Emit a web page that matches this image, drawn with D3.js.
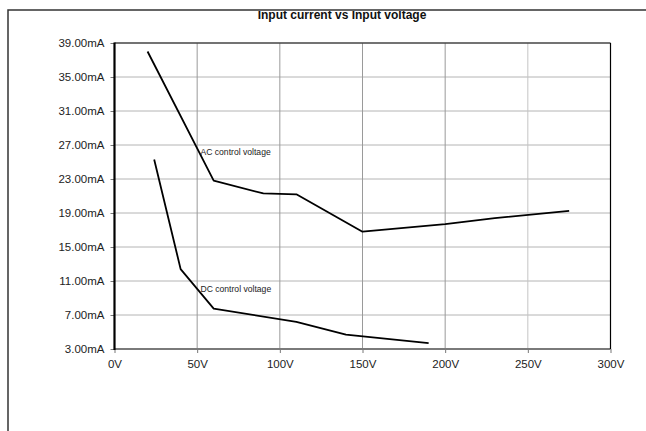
<!DOCTYPE html>
<html><head><meta charset="utf-8">
<script src="https://cdn.jsdelivr.net/npm/d3@7"></script>
<style>
html,body{margin:0;padding:0;background:#fff;}
svg{display:block;font-family:"Liberation Sans",Arial,sans-serif;}
</style></head>
<body>
<svg id="chart" width="646" height="431"></svg>
<script>
const title = "Input current vs Input voltage";
const xTicks = [0, 50, 100, 150, 200, 250, 300];
const yTicks = [3, 7, 11, 15, 19, 23, 27, 31, 35, 39];
const acVoltage = [20, 60, 90, 110, 150, 200, 230, 275];
const acCurrent = [38.0, 22.8, 21.3, 21.2, 16.8, 17.7, 18.4, 19.25];
const dcVoltage = [24, 40, 60, 110, 140, 190];
const dcCurrent = [25.3, 12.4, 7.75, 6.2, 4.7, 3.7];
const acLabel = {text: "AC control voltage", v: 52, i: 25.8};
const dcLabel = {text: "DC control voltage", v: 52, i: 9.7};

const svg = d3.select("#chart");
const x = d3.scaleLinear().domain([0, 300]).range([114.5, 610.5]);
const y = d3.scaleLinear().domain([3, 39]).range([349, 43]);

// outer frame
svg.append("path").attr("d", "M8,431 L8,10 L646,10").attr("fill", "none")
  .attr("stroke", "#333").attr("stroke-width", 1.5);

// title clipped by frame
svg.append("clipPath").attr("id", "tclip").append("rect")
  .attr("x", 0).attr("y", 11).attr("width", 646).attr("height", 40);
svg.append("text").attr("clip-path", "url(#tclip)")
  .attr("x", 342).attr("y", 19).attr("text-anchor", "middle")
  .attr("font-size", 12).attr("font-weight", "bold").attr("fill", "#111")
  .text(title);

// grid
const g = svg.append("g");
g.selectAll(".hg").data(yTicks.filter(d => d !== 3 && d !== 39)).join("line")
  .attr("x1", x(0)).attr("x2", x(300)).attr("y1", d => y(d)).attr("y2", d => y(d))
  .attr("stroke", "#b4b4b4").attr("stroke-width", 1);
g.selectAll(".vg").data(xTicks.filter(d => d !== 0 && d !== 300)).join("line")
  .attr("x1", d => x(d)).attr("x2", d => x(d)).attr("y1", y(39)).attr("y2", y(3))
  .attr("stroke", d => d === 250 ? "#c4c4c4" : "#9a9a9a").attr("stroke-width", 1);

// axes
const yAxis = d3.axisLeft(y).tickValues(yTicks).tickSize(4).tickPadding(6)
  .tickFormat(d => d3.format(".2f")(d) + "mA");
const ya = svg.append("g").attr("transform", `translate(${x(0)},0)`).call(yAxis);
ya.select(".domain").remove();
ya.selectAll(".tick line").attr("stroke", "#777");
ya.selectAll("text").attr("font-size", 11.5).attr("fill", "#222")
  .attr("font-family", '"Liberation Sans",Arial,sans-serif');

const xAxis = d3.axisBottom(x).tickValues(xTicks).tickSize(4).tickPadding(7)
  .tickFormat(d => d + "V");
const xa = svg.append("g").attr("transform", `translate(0,${y(3)})`).call(xAxis);
xa.select(".domain").remove();
xa.selectAll(".tick line").attr("stroke", "#777");
xa.selectAll("text").attr("font-size", 11.5).attr("fill", "#222")
  .attr("font-family", '"Liberation Sans",Arial,sans-serif');

// plot borders
svg.append("line").attr("x1", x(0)).attr("x2", x(300)).attr("y1", y(3)).attr("y2", y(3))
  .attr("stroke", "#7a7a7a").attr("stroke-width", 2.2);
svg.append("line").attr("x1", x(0)).attr("x2", x(300)).attr("y1", y(39)).attr("y2", y(39))
  .attr("stroke", "#444").attr("stroke-width", 1.6);
svg.append("line").attr("x1", x(300)).attr("x2", x(300)).attr("y1", y(39)).attr("y2", y(3))
  .attr("stroke", "#000").attr("stroke-width", 1.2);
svg.append("line").attr("x1", x(0)).attr("x2", x(0)).attr("y1", y(39) - 0.5).attr("y2", y(3) + 1)
  .attr("stroke", "#000").attr("stroke-width", 2.2);

// series
const line = d3.line().x(d => x(d[0])).y(d => y(d[1]));
const ac = d3.zip(acVoltage, acCurrent);
const dc = d3.zip(dcVoltage, dcCurrent);
[ac, dc].forEach(s => {
  svg.append("path").datum(s).attr("d", line).attr("fill", "none")
    .attr("stroke", "#000").attr("stroke-width", 1.8).attr("stroke-linejoin", "round");
});

[acLabel, dcLabel].forEach(l => {
  svg.append("text").attr("x", x(l.v)).attr("y", y(l.i))
    .attr("font-size", 8.6).attr("fill", "#222").text(l.text);
});
</script>
</body></html>
